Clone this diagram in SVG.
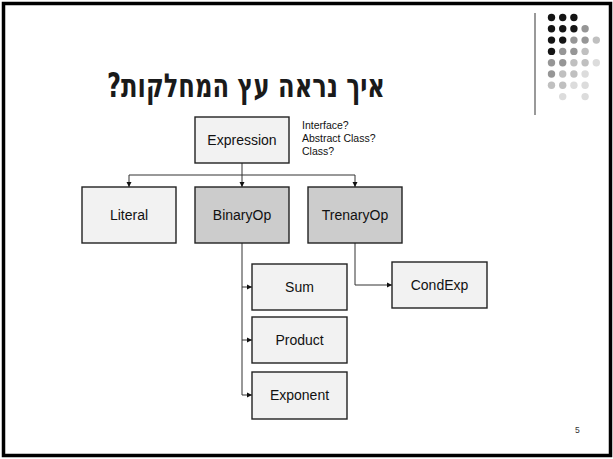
<svg xmlns="http://www.w3.org/2000/svg" width="613" height="459" viewBox="0 0 613 459">
<style>
.box{stroke:#222;stroke-width:1.4}
.leaf{fill:#f2f2f2}
.mid{fill:#cccccc}
.lbl{font-family:"Liberation Sans",Arial,sans-serif;font-size:14px;fill:#111;text-anchor:middle}
.note{font-family:"Liberation Sans",Arial,sans-serif;font-size:10.5px;fill:#111}
.con{fill:none;stroke:#333;stroke-width:1}
.k{fill:#141414}.g{fill:#969696}.l{fill:#c0c0c0}.p{fill:#dcdcdc}
</style>
<defs>
<marker id="arr" markerUnits="userSpaceOnUse" markerWidth="6" markerHeight="6" refX="5" refY="3" orient="auto">
<path d="M0,0.5 L5,3 L0,5.5 Z" fill="#111"/>
</marker>
</defs>
<rect x="0" y="0" width="613" height="459" fill="#fff"/>
<rect x="3.5" y="3.5" width="607" height="452" fill="none" stroke="#000" stroke-width="3.5"/>
<g id="title">
<text x="246" y="97" style="direction:rtl;unicode-bidi:embed" font-family="'DejaVu Sans',sans-serif" font-size="33" font-weight="bold" fill="#1a1a1a" text-anchor="middle" textLength="278" lengthAdjust="spacingAndGlyphs">איך נראה עץ המחלקות?</text>
</g>
<g id="decor">
<line x1="535" y1="13" x2="535" y2="115" stroke="#999" stroke-width="2"/>
<g>
<circle class="k" cx="551.5" cy="17.5" r="3.7"/><circle class="k" cx="562.7" cy="17.5" r="3.7"/><circle class="k" cx="573.9" cy="17.5" r="3.7"/>
<circle class="k" cx="551.5" cy="28.8" r="3.7"/><circle class="k" cx="562.7" cy="28.8" r="3.7"/><circle class="k" cx="573.9" cy="28.8" r="3.7"/><circle class="g" cx="585.1" cy="28.8" r="3.7"/>
<circle class="k" cx="551.5" cy="40.1" r="3.7"/><circle class="k" cx="562.7" cy="40.1" r="3.7"/><circle class="g" cx="573.9" cy="40.1" r="3.7"/><circle class="g" cx="585.1" cy="40.1" r="3.7"/><circle class="l" cx="596.3" cy="40.1" r="3.7"/>
<circle class="k" cx="551.5" cy="51.4" r="3.7"/><circle class="g" cx="562.7" cy="51.4" r="3.7"/><circle class="g" cx="573.9" cy="51.4" r="3.7"/><circle class="l" cx="585.1" cy="51.4" r="3.7"/>
<circle class="g" cx="551.5" cy="62.7" r="3.7"/><circle class="g" cx="562.7" cy="62.7" r="3.7"/><circle class="l" cx="573.9" cy="62.7" r="3.7"/><circle class="l" cx="585.1" cy="62.7" r="3.7"/><circle class="p" cx="596.3" cy="62.7" r="3.7"/>
<circle class="g" cx="551.5" cy="74" r="3.7"/><circle class="l" cx="562.7" cy="74" r="3.7"/><circle class="l" cx="573.9" cy="74" r="3.7"/><circle class="p" cx="585.1" cy="74" r="3.7"/>
<circle class="l" cx="551.5" cy="85.3" r="3.7"/><circle class="l" cx="562.7" cy="85.3" r="3.7"/><circle class="p" cx="573.9" cy="85.3" r="3.7"/><circle class="p" cx="585.1" cy="85.3" r="3.7"/>
<circle class="p" cx="562.7" cy="96.6" r="3.7"/><circle class="p" cx="585.1" cy="96.6" r="3.7"/>
</g>
</g>
<g id="connectors">
<polyline class="con" points="242,163 242,175"/>
<polyline class="con" points="129,175 355,175"/>
<line class="con" x1="129" y1="175" x2="129" y2="187" marker-end="url(#arr)"/>
<line class="con" x1="242" y1="175" x2="242" y2="187" marker-end="url(#arr)"/>
<line class="con" x1="355" y1="175" x2="355" y2="187" marker-end="url(#arr)"/>
<polyline class="con" points="242,243 242,395"/>
<line class="con" x1="242" y1="287" x2="252" y2="287" marker-end="url(#arr)"/>
<line class="con" x1="242" y1="340" x2="252" y2="340" marker-end="url(#arr)"/>
<line class="con" x1="242" y1="395" x2="252" y2="395" marker-end="url(#arr)"/>
<polyline class="con" points="355,243 355,285 392,285" marker-end="url(#arr)"/>
</g>
<g id="expression">
<rect class="box leaf" x="195" y="117" width="94" height="46"/>
<text class="lbl" x="242" y="145">Expression</text>
</g>
<g id="note">
<text class="note" x="302" y="129">Interface?</text>
<text class="note" x="302" y="142">Abstract Class?</text>
<text class="note" x="302" y="155">Class?</text>
</g>
<g id="literal">
<rect class="box leaf" x="82" y="187" width="94" height="56"/>
<text class="lbl" x="129" y="220">Literal</text>
</g>
<g id="binaryop">
<rect class="box mid" x="195" y="187" width="94" height="56"/>
<text class="lbl" x="242" y="220">BinaryOp</text>
</g>
<g id="trenaryop">
<rect class="box mid" x="308" y="187" width="94" height="56"/>
<text class="lbl" x="355" y="220">TrenaryOp</text>
</g>
<g id="sum">
<rect class="box leaf" x="252" y="264" width="95" height="46"/>
<text class="lbl" x="299.5" y="292">Sum</text>
</g>
<g id="product">
<rect class="box leaf" x="252" y="317" width="95" height="46"/>
<text class="lbl" x="299.5" y="345">Product</text>
</g>
<g id="exponent">
<rect class="box leaf" x="252" y="372" width="95" height="47"/>
<text class="lbl" x="299.5" y="400">Exponent</text>
</g>
<g id="condexp">
<rect class="box leaf" x="392" y="262" width="95" height="46"/>
<text class="lbl" x="439.5" y="290">CondExp</text>
</g>
<text x="575" y="433" font-family="'Liberation Sans',Arial,sans-serif" font-size="8.5" fill="#333">5</text>
</svg>
